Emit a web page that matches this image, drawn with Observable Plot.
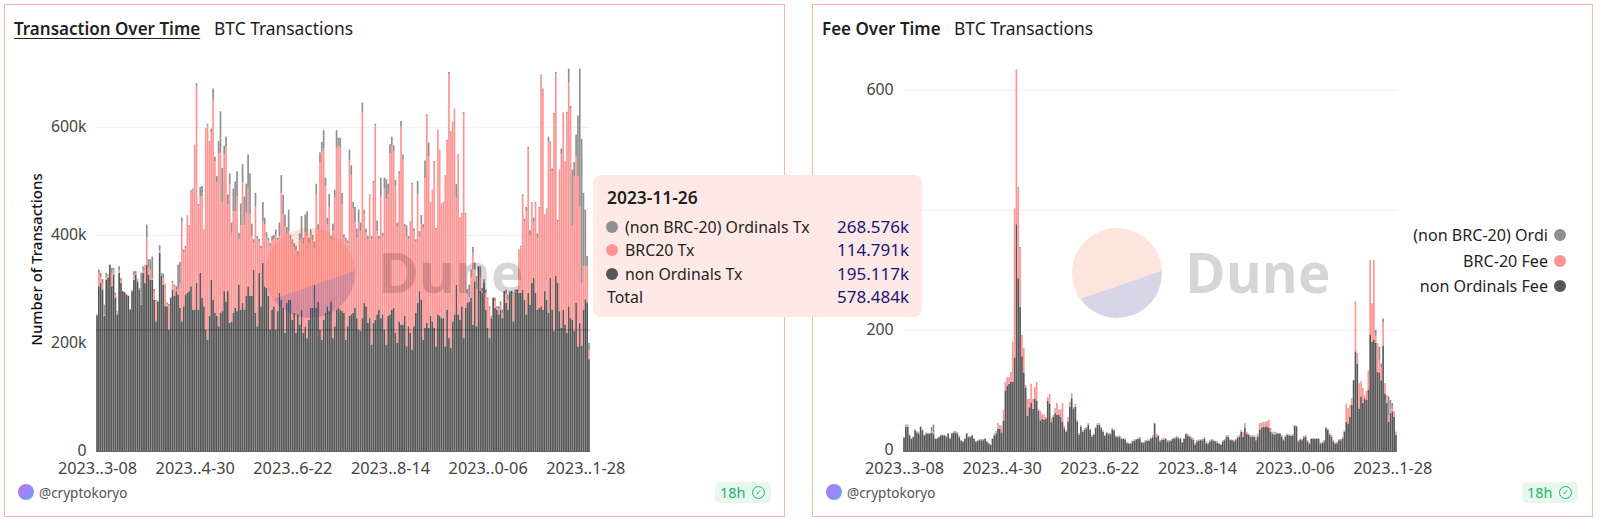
<!DOCTYPE html>
<html><head><meta charset="utf-8">
<script src="https://cdn.jsdelivr.net/npm/d3@7"></script>
<script src="https://cdn.jsdelivr.net/npm/@observablehq/plot@0.6"></script>
<style>
html,body{margin:0;padding:0;background:#fff;width:1600px;height:519px;overflow:hidden;font-family:"Noto Sans",sans-serif;color:#1f1f1f}
.abs{position:absolute}
.panel{position:absolute;top:4px;height:511px;border:1.5px solid #ffb4ae;box-sizing:content-box}
.title{position:absolute;top:17px;font-size:17.4px;line-height:22px;white-space:nowrap}
.title b{font-weight:600;font-size:17px}
.logo{position:absolute;width:90px;height:90px;border-radius:50%;top:228px;background:linear-gradient(-19deg,rgba(58,48,128,.2) 39%,rgba(243,90,43,.16) 39%);z-index:5}
.dune{position:absolute;top:227px;font:700 55px/90px "Open Sans",sans-serif;color:rgba(0,0,0,.16);z-index:5}
.avatar{position:absolute;top:484px;width:16px;height:16px;border-radius:50%;background:radial-gradient(circle at 25% 30%,#b07cf0,#8f8cf5 55%,#5cb8f0)}
.handle{position:absolute;top:483px;font-size:13.5px;line-height:20px;color:#555}
.badge{position:absolute;top:482px;width:56px;height:21px;border-radius:5px;background:#e7f7ee;color:#1fb56a;font-size:14.5px;line-height:21px;padding-left:5px;box-sizing:border-box}
.badge i{position:absolute;right:6px;top:4px;width:11px;height:11px;border:1.4px solid #1fb56a;border-radius:50%;font:700 8px/11px "DejaVu Sans";text-align:center}
.tip{position:absolute;left:593px;top:175px;width:329px;height:142px;background:#ffe9e7;border-radius:8px;z-index:10}
.tip div{position:absolute;white-space:nowrap;font-size:15.9px;line-height:20px}
.dot{width:12px;height:12px;border-radius:50%}
.leg{position:absolute;white-space:nowrap;font-size:16.1px;line-height:20px;text-align:right;right:52px}
svg{position:absolute;overflow:visible}
</style></head><body>
<script>
const xStart = new Date(Date.UTC(2023,2,8));
const xTickLabels = ["2023..3-08","2023..4-30","2023..6-22","2023..8-14","2023..0-06","2023..1-28"];
const xTickIndexes = [0,53,106,159,212,265];

// Transactions, thousands per day. Tops of the three stacked layers.
const nonOrdinalsTx = [
250,305,311,299,250,317,321,345,305,327,284,253,330,311,296,294,290,287,262,296,
317,327,314,299,271,330,311,345,327,317,317,280,240,277,367,324,308,268,268,225,
284,299,287,296,290,265,240,268,290,293,296,305,262,262,311,262,330,284,268,225,
206,250,317,280,256,250,231,256,259,296,277,296,237,240,256,265,259,308,262,274,
262,287,305,287,287,336,256,231,330,268,348,305,302,287,225,262,268,225,259,293,
280,265,219,274,280,280,243,256,219,253,234,262,219,231,209,243,265,265,308,265,
277,225,206,243,256,268,259,277,209,231,262,265,262,
259,256,206,231,250,253,256,265,246,225,222,246,274,268,237,246,197,237,243,253,
262,246,253,225,197,250,253,262,265,219,200,240,234,234,250,194,231,219,188,231,
256,274,296,280,206,228,237,228,250,240,228,194,253,250,246,246,194,262,209,191,
240,253,308,253,243,268,209,265,274,277,284,234,314,231,342,296,293,311,262,228,
209,246,284,265,262,253,262,246,296,274,262,293,296,240,293,299,293,293,299,280,
253,293,271,311,321,293,262,265,268,262,296,280,256,321,262,222,324,311,259,228,
262,234,219,268,246,243,222,274,194,237,195,262,281,275,170];
const nonOrdinalsPlusBrc20Tx = [
250,330,322,310,252,325,325,345,330,335,290,258,335,315,296,294,291,288,263,298,
325,328,316,300,272,335,345,395,340,335,320,295,277,277,372,325,320,310,272,270,
226,313,305,298,300,310,423,368,375,435,416,481,484,566,676,453,472,472,408,597,
603,573,591,650,537,497,551,552,460,549,563,457,494,404,444,444,472,392,418,497,
418,441,487,438,398,385,453,392,388,375,426,420,395,390,380,390,392,400,390,398,
478,438,415,401,407,392,385,378,372,362,390,395,385,405,400,385,400,390,375,475,
410,534,555,560,491,420,452,392,407,469,561,565,563,457,395,388,385,538,510,450,
423,395,423,407,628,438,405,392,473,392,497,603,407,392,471,398,486,466,475,551,
566,555,491,415,514,600,540,415,398,392,423,494,407,388,475,398,420,413,505,620,
546,460,483,535,410,594,557,456,459,510,574,698,590,608,633,469,549,430,439,626,
439,290,284,321,367,336,300,312,321,296,311,293,281,265,248,284,278,265,262,270,
255,296,290,280,293,296,290,293,293,372,378,471,425,444,560,400,460,423,458,395,
449,695,669,436,447,572,571,518,623,699,425,520,550,626,534,626,682,634,417,508,
546,509,453,310,342,342,342,187];
const totalTx = [
253,336,330,318,271,330,327,345,339,339,293,259,342,320,296,294,291,288,263,298,
333,333,318,302,330,342,345,419,355,355,360,300,280,278,381,330,328,310,275,272,
228,315,308,305,345,350,432,373,380,436,418,483,486,567,681,457,489,491,410,598,
606,574,597,671,545,509,574,629,524,565,582,475,514,423,486,499,518,404,458,531,
471,495,549,514,421,392,478,398,392,380,461,432,405,395,385,398,400,410,395,423,
511,474,438,415,447,400,392,385,380,370,403,435,395,438,444,395,410,400,388,495,
420,553,572,594,506,432,476,398,421,484,594,580,580,478,401,395,390,558,529,461,
452,412,447,423,645,446,412,398,475,398,500,606,427,398,506,404,506,503,495,568,
582,566,502,423,518,611,549,420,418,398,425,497,412,392,500,407,437,420,538,623,
571,461,484,537,413,595,558,458,461,511,576,702,592,610,634,494,550,432,441,628,
441,300,308,336,378,349,324,321,342,302,318,299,284,268,250,284,284,268,268,277,
262,296,299,290,296,296,293,299,296,373,380,475,430,452,563,409,461,432,461,403,
452,697,671,438,449,582,573,523,626,702,428,521,560,627,536,628,708,639,521,535,
586,621,708,578,478,447,361,200];

// Fees per day. Tops of the three stacked layers.
const nonOrdinalsFee = [
22,40,40,26,20,23,34,31,29,40,34,26,29,29,29,31,29,20,20,23,
26,26,26,23,29,20,29,31,31,29,23,17,15,20,29,23,23,26,20,15,
17,18,18,18,20,15,12,10,20,26,29,37,37,31,51,101,109,112,115,115,
156,378,288,240,158,131,106,59,73,81,70,87,84,67,51,54,52,54,84,79,
48,57,63,60,60,57,49,38,32,49,74,88,71,74,49,27,41,32,35,38,
44,35,24,27,38,44,44,38,32,25,30,28,28,36,34,24,23,24,20,20,
19,13,12,12,16,17,19,20,21,14,13,16,17,17,21,23,46,23,25,16,
19,19,20,16,16,17,20,21,23,21,20,14,20,28,25,24,21,19,11,16,
17,18,18,21,13,12,16,18,17,16,14,12,10,16,18,24,24,18,18,16,
18,22,24,32,24,39,29,27,24,24,24,18,24,35,39,40,40,41,39,32,
29,27,29,29,29,24,18,24,27,26,25,26,42,41,16,19,18,23,24,16,
12,20,20,20,20,20,12,13,16,38,35,27,24,16,12,13,18,18,21,32,
49,46,57,77,118,166,146,71,91,80,88,85,102,194,182,185,180,132,130,118,
175,96,80,49,63,66,57,27];
const nonOrdinalsPlusBrc20Fee = [
22,43,43,27,20,23,34,32,30,40,34,26,30,29,29,33,31,20,20,23,
26,26,26,24,29,21,29,32,32,30,24,17,15,20,29,24,23,26,20,15,
18,19,19,19,21,15,12,10,20,28,32,45,42,41,67,114,122,122,130,181,
403,635,438,338,192,170,109,86,86,111,86,105,114,69,66,61,59,55,89,94,
54,59,70,79,68,68,79,41,33,56,81,95,72,77,51,29,42,33,37,39,
45,36,25,28,39,45,45,39,33,26,31,29,29,37,35,25,24,25,21,20,
20,14,12,12,16,18,19,21,22,14,14,17,18,18,21,25,46,27,26,17,
20,20,21,17,17,18,21,22,24,22,21,14,20,29,27,25,22,20,12,17,
18,18,19,22,15,13,17,19,18,16,15,12,10,17,19,25,25,18,18,17,
19,23,25,34,31,45,31,28,25,25,25,23,27,45,46,47,47,49,51,37,
31,31,30,29,29,25,19,25,28,27,26,27,42,41,17,20,19,24,25,17,
13,20,20,20,20,20,13,14,17,39,36,29,26,17,13,14,19,19,23,33,
78,70,76,87,117,248,162,112,115,104,92,99,133,317,245,317,192,179,152,140,
215,112,92,60,70,72,64,31];
const totalFee = [
23,44,44,28,21,24,36,33,31,41,36,27,31,30,30,40,44,21,21,24,
27,27,27,25,30,22,30,33,33,31,25,18,16,21,30,25,24,27,21,16,
18,20,20,20,22,16,13,11,21,29,33,46,43,42,68,115,123,123,131,182,
404,636,440,340,193,171,110,87,87,112,87,106,115,70,67,62,60,56,90,95,
55,60,71,80,69,69,80,42,34,57,82,96,73,78,52,30,43,34,38,40,
46,37,26,29,40,46,46,40,34,27,32,30,30,38,36,26,25,26,22,21,
21,15,13,13,17,19,20,22,23,15,15,18,19,19,22,26,47,28,27,18,
21,21,22,18,18,19,22,23,25,23,22,15,21,30,28,26,23,21,13,18,
19,19,20,23,16,14,18,20,19,17,16,13,11,18,20,26,26,19,19,18,
20,24,26,35,32,46,32,29,26,26,26,24,28,46,47,48,48,50,52,38,
32,32,31,30,30,26,20,26,29,28,27,28,43,42,18,21,20,25,26,18,
14,21,21,21,21,21,14,15,18,40,37,30,27,18,14,15,20,20,24,34,
79,71,77,88,118,249,163,113,116,105,93,100,134,318,246,318,202,180,174,146,
221,113,93,91,85,80,66,32];

const colors = {ordinals:"#8f8f8f", brc20:"#ff9494", non:"#565656"};
const days = d3.utcDay.range(xStart, d3.utcDay.offset(xStart, totalTx.length)).map(d3.utcFormat("%Y-%m-%d"));
const tickDays = xTickIndexes.map(i => days[i]);
const FONT = '"Noto Sans",sans-serif';

function chart({total, mid, base, yMax, marginTop, gridTicks, yTicks, yFormat, yLabel, refLine, gridDy, labelDy}) {
  const rows = days.map((day,i)=>({day,total:total[i],mid:mid[i],base:base[i],midTop:Math.max(mid[i],base[i])}));
  const marks = [
    Plot.ruleY(gridTicks,{stroke:"#f1f1f1",strokeWidth:1.2,dy:gridDy}),
    Plot.barY(rows,{x:"day",y1:0,y2:"base",fill:colors.non}),
    Plot.barY(rows,{x:"day",y1:"base",y2:"midTop",fill:colors.brc20}),
    Plot.barY(rows,{x:"day",y1:"midTop",y2:d=>Math.max(d.total,d.midTop),fill:colors.ordinals}),
    Plot.axisX({ticks:tickDays,tickSize:0,tickPadding:11,label:null,fontSize:16.3,fill:"#444",
      tickFormat:d=>xTickLabels[tickDays.indexOf(d)]}),
    Plot.axisY({ticks:yTicks,tickSize:0,tickPadding:10,tickFormat:yFormat,fontSize:15.8,fill:"#444",label:null,dy:labelDy}),
    Plot.ruleY([0],{stroke:"#666",strokeWidth:1})
  ];
  if (yLabel) marks.push(Plot.text([yLabel],{frameAnchor:"left",textAnchor:"middle",rotate:-90,dx:-59,fontSize:15,fontWeight:500,fill:"#111"}));
  if (refLine!=null) marks.push(Plot.ruleY([refLine],{stroke:"#000",strokeOpacity:.3,strokeWidth:1}));
  return Plot.plot({width:640,height:510,marginLeft:96,marginRight:50,marginTop,marginBottom:59,
    style:{fontFamily:FONT,fontSize:"15px",background:"transparent",overflow:"visible"},
    x:{type:"band",domain:days,padding:.1,round:false,label:null},
    y:{domain:[0,yMax],label:null},
    marks});
}

const left = chart({total:totalTx,mid:nonOrdinalsPlusBrc20Tx,base:nonOrdinalsTx,yMax:711,marginTop:67,
  gridTicks:[0,200,400,600],yTicks:[0,200,400,600],yFormat:d=>d?d+"k":"0",yLabel:"Number of Transactions",refLine:225,gridDy:0,labelDy:-1});
left.style.left="0px";left.style.top="0px";
const right = chart({total:totalFee,mid:nonOrdinalsPlusBrc20Fee,base:nonOrdinalsFee,yMax:700,marginTop:31,
  gridTicks:[0,200,400,600],yTicks:[0,200,600],yFormat:d=>String(d),yLabel:null,gridDy:-1,labelDy:-2});
right.style.left="807px";right.style.top="0px";

const h = (html)=>{const t=document.createElement("template");t.innerHTML=html.trim();return t.content.firstChild;};
const panels = [
 `<div class="panel" style="left:4px;width:779px"></div>`,
 `<div class="panel" style="left:812px;width:779px"></div>`,
 `<div class="title" style="left:14px"><b style="text-decoration:underline;text-underline-offset:3px">Transaction Over Time</b></div>`,
 `<div class="title" style="left:214px">BTC Transactions</div>`,
 `<div class="title" style="left:822px"><b>Fee Over Time</b></div>`,
 `<div class="title" style="left:954px">BTC Transactions</div>`,
];
panels.forEach(p=>document.body.append(h(p)));
document.body.append(left,right);
const over = [
 `<div class="logo" style="left:265px"></div>`,
 `<div class="dune" style="left:378px">Dune</div>`,
 `<div class="logo" style="left:1072px"></div>`,
 `<div class="dune" style="left:1185px">Dune</div>`,
 `<div class="avatar" style="left:18px"></div>`,
 `<div class="handle" style="left:39px">@cryptokoryo</div>`,
 `<div class="avatar" style="left:826px"></div>`,
 `<div class="handle" style="left:847px">@cryptokoryo</div>`,
 `<div class="badge" style="left:715px">18h<i>✓</i></div>`,
 `<div class="badge" style="left:1522px">18h<i>✓</i></div>`,
 `<div class="leg" style="top:225px">(non BRC-20) Ordi</div>`,
 `<div class="leg" style="top:251px">BRC-20 Fee</div>`,
 `<div class="leg" style="top:276px">non Ordinals Fee</div>`,
 `<div class="abs dot" style="left:1554px;top:229px;width:12px;height:12px;border-radius:50%;background:${colors.ordinals}"></div>`,
 `<div class="abs dot" style="left:1554px;top:255px;width:12px;height:12px;border-radius:50%;background:${colors.brc20}"></div>`,
 `<div class="abs dot" style="left:1554px;top:280px;width:12px;height:12px;border-radius:50%;background:${colors.non}"></div>`,
];
over.forEach(p=>document.body.append(h(p)));

const tipRows = [
 ["(non BRC-20) Ordinals Tx","268.576k",colors.ordinals],
 ["BRC20 Tx","114.791k",colors.brc20],
 ["non Ordinals Tx","195.117k",colors.non],
 ["Total","578.484k",null]];
const tip = h(`<div class="tip"></div>`);
tip.append(h(`<div style="left:14px;top:12px;font-weight:600;font-size:17.4px">2023-11-26</div>`));
tipRows.forEach(([name,val,c],i)=>{
  const y = 42+i*23.4;
  if (c) tip.append(h(`<div class="dot" style="left:13px;top:${y+4}px;background:${c}"></div>`));
  tip.append(h(`<div style="left:${c?32:14}px;top:${y}px">${name}</div>`));
  tip.append(h(`<div style="right:13px;top:${y}px;color:#1b1478;font-size:17px">${val}</div>`));
});
document.body.append(tip);
</script>
</body></html>
